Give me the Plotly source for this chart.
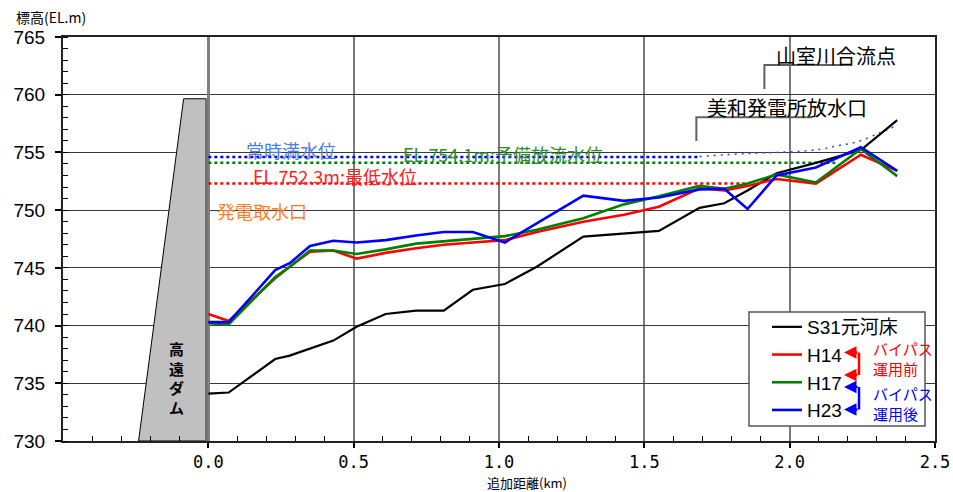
import plotly.graph_objects as go

# ---- river-bed profile data (distance in km, elevation in EL.m) ----
dist_km = [0.0, 0.07, 0.23, 0.28, 0.35, 0.43, 0.51, 0.61, 0.715, 0.81, 0.91, 1.02,
           1.13, 1.29, 1.43, 1.55, 1.69, 1.775, 1.855, 1.955, 2.09, 2.245, 2.37]
s31 = [734.1, 734.2, 737.1, 737.4, None, 738.7, 739.9, 741.0, 741.3, 741.3, 743.1, 743.6,
       745.1, 747.7, None, 748.2, 750.2, 750.6, 751.7, 753.2, 754.1, 755.2, 757.8]
h14 = [741.0, 740.4, 744.1, 745.1, 746.4, 746.5, 745.8, 746.3, 746.7, 747.0, 747.2, 747.4,
       748.1, 749.0, 749.6, 750.3, 751.9, 751.7, 752.1, 752.7, 752.3, 754.8, 753.4]
h17 = [740.2, 740.1, 744.2, 745.1, 746.5, 746.5, 746.2, 746.6, 747.1, 747.3, 747.55, 747.75,
       748.3, 749.3, 750.5, 751.2, 752.1, 751.85, 752.3, 753.1, 752.4, 755.3, 752.95]
h23 = [740.3, 740.3, 744.8, 745.4, 746.9, 747.35, 747.2, 747.4, 747.8, 748.1, 748.1, 747.2,
       None, 751.25, 750.8, 751.1, 751.8, 751.85, 750.1, 753.0, 753.7, 755.45, 753.4]

series_names = ["S31元河床", "H14", "H17", "H23"]
series_colors = ["#000000", "#ff0000", "#008000", "#0000ff"]

# ---- reservoir water levels ----
full_level = 754.6          # 常時満水位
full_level_x = [0.0, 1.69]
reserve_level = 754.1       # 予備放流水位
reserve_level_x = [0.0, 2.16]
min_level = 752.3           # 最低水位
min_level_x = [0.0, 1.855]
backwater_x = [1.69, 1.85, 2.0, 2.1, 2.17, 2.23, 2.31, 2.37]
backwater_y = [754.65, 754.9, 755.05, 755.25, 755.6, 755.9, 756.7, 757.35]

# ---- dam body outline ----
dam_x = [-0.24, -0.085, -0.007, -0.007, -0.24]
dam_y = [730.0, 759.65, 759.65, 730.0, 730.0]
dam_label = "高遠ダム"

x_ticks = [0.0, 0.5, 1.0, 1.5, 2.0, 2.5]
x_ticktext = ["0.0", "0.5", "1.0", "1.5", "2.0", "2.5"]
y_ticks = [730, 735, 740, 745, 750, 755, 760, 765]

JP = "Noto Sans CJK JP"
LAT = "Liberation Sans, Arial, Noto Sans CJK JP"

# plot-area geometry in pixels (used for paper-coordinate placement)
W, H = 953, 492
ML, MR, MT, MB = 63, 18, 37, 51
PW, PH = W - ML - MR, H - MT - MB


def px(xp):
    return (xp - ML) / PW


def py(yp):
    return (H - MB - yp) / PH


fig = go.Figure()

# water level lines
fig.add_trace(go.Scatter(x=full_level_x, y=[full_level] * 2, mode="lines",
                         line=dict(color="#0000ff", width=2.5, dash="dot"),
                         showlegend=False, hoverinfo="skip"))
fig.add_trace(go.Scatter(x=backwater_x, y=backwater_y, mode="lines", line_shape="spline",
                         line=dict(color="#3050ff", width=1.6, dash="2px,5px"),
                         showlegend=False, hoverinfo="skip"))
fig.add_trace(go.Scatter(x=reserve_level_x, y=[reserve_level] * 2, mode="lines",
                         line=dict(color="#008000", width=2.5, dash="dot"),
                         showlegend=False, hoverinfo="skip"))
fig.add_trace(go.Scatter(x=min_level_x, y=[min_level] * 2, mode="lines",
                         line=dict(color="#ff0000", width=2.5, dash="dot"),
                         showlegend=False, hoverinfo="skip"))

# dam body
fig.add_trace(go.Scatter(x=dam_x, y=dam_y, mode="lines", fill="toself",
                         fillcolor="#c0c0c0", line=dict(color="#000000", width=1),
                         showlegend=False, hoverinfo="skip"))
fig.add_trace(go.Scatter(x=[dam_x[2], dam_x[3]], y=[dam_y[2], dam_y[3]], mode="lines",
                         line=dict(color="#707070", width=2.5),
                         showlegend=False, hoverinfo="skip"))

# river-bed profiles
for name, ys, col, w in zip(series_names, [s31, h14, h17, h23], series_colors,
                            [2.2, 2.6, 2.6, 2.6]):
    fig.add_trace(go.Scatter(x=dist_km, y=ys, mode="lines", name=name,
                             connectgaps=True, line=dict(color=col, width=w)))

annotations = []


def txt(text, x, y, size, color, xanchor="center", xref="x", yref="y", **kw):
    annotations.append(dict(text=text, x=x, y=y, xref=xref, yref=yref,
                            xanchor=xanchor, yanchor="middle", showarrow=False,
                            font=dict(family=kw.pop("family", JP), size=size, color=color),
                            **kw))


txt("常時満水位", 0.2845, 755.23, 18, "#4a7ee6")
txt("EL.754.1m:予備放流水位", 0.664, 754.86, 18, "#2e8b2e", xanchor="left")
txt("EL.752.3m:最低水位", 0.148, 752.92, 18, "#ff2020", xanchor="left")
txt("発電取水口", 0.186, 749.9, 18, "#ff7f27")
txt("山室川合流点", 2.158, 763.44, 20, "#000000")
txt("美和発電所放水口", 1.991, 758.93, 20, "#000000")

# dam name, written vertically
txt("<b>" + "<br>".join(dam_label) + "</b>", -0.108, 735.5, 15, "#000000")

# axis titles
txt("標高(EL.m)", px(14), py(17), 14, "#000000", xanchor="left", xref="paper", yref="paper")
txt("追加距離(km)", px(485), py(482), 13, "#000000", xanchor="left", xref="paper", yref="paper")

# bypass notes beside the legend
txt("バイパス<br>運用前", px(871), py(358.5), 15, "#ff0000", xanchor="left",
    xref="paper", yref="paper", align="left")
txt("バイパス<br>運用後", px(871), py(403), 15, "#0000ff", xanchor="left",
    xref="paper", yref="paper", align="left")

for (y_top, y_bot, col) in [(352.5, 375.0, "#ff0000"), (387.0, 409.5, "#0000ff")]:
    for yy in (y_top, y_bot):
        annotations.append(dict(x=px(844), y=py(yy), xref="paper", yref="paper",
                                ax=15, ay=0, text="", showarrow=True, arrowhead=2,
                                arrowsize=1.0, arrowwidth=2.5, arrowcolor=col))

shapes = []
# leader lines for the upstream landmarks
shapes.append(dict(type="path", xref="x", yref="y",
                   path="M 1.913,760.5 L 1.913,762.57 L 2.213,762.57",
                   line=dict(color="#606060", width=2)))
shapes.append(dict(type="path", xref="x", yref="y",
                   path="M 1.679,756.0 L 1.679,758.04 L 2.078,758.04",
                   line=dict(color="#606060", width=2)))
# legend frame
shapes.append(dict(type="rect", xref="paper", yref="paper", layer="above",
                   x0=px(749), x1=px(925), y0=py(426), y1=py(312),
                   fillcolor="#ffffff", line=dict(color="#555555", width=1.5)))
# bypass brackets
for (y_top, y_bot, col) in [(352.5, 375.0, "#ff0000"), (387.0, 409.5, "#0000ff")]:
    shapes.append(dict(type="line", xref="paper", yref="paper", layer="above",
                       x0=px(859), x1=px(859), y0=py(y_top), y1=py(y_bot),
                       line=dict(color=col, width=2.5)))

minor_x = [round(-0.4 + 0.1 * i, 1) for i in range(29)]
minor_x = [v for v in minor_x if abs(v * 2 - round(v * 2)) > 1e-6]

fig.update_layout(
    width=W, height=H,
    margin=dict(l=ML, r=MR, t=MT, b=MB, pad=0, autoexpand=False),
    paper_bgcolor="#ffffff", plot_bgcolor="#ffffff",
    showlegend=True,
    legend=dict(x=px(767), y=py(308), xanchor="left", yanchor="top",
                bgcolor="rgba(0,0,0,0)", borderwidth=0,
                font=dict(family=LAT, size=19, color="#000000"),
                tracegroupgap=0),
    annotations=annotations,
    shapes=shapes,
    xaxis=dict(range=[-0.5, 2.5], tickmode="array", tickvals=x_ticks, ticktext=x_ticktext,
               automargin=False,
               ticks="outside", ticklen=5, tickwidth=1.5, tickcolor="#000000",
               tickfont=dict(family="DejaVu Sans Mono", size=17, color="#000000"),
               ticklabelstandoff=0,
               showgrid=True, gridcolor="#7a7a7a", gridwidth=1.5,
               zeroline=True, zerolinecolor="#808080", zerolinewidth=2.5,
               showline=True, linecolor="#222222", linewidth=2, mirror=True,
               minor=dict(tickmode="array", tickvals=minor_x, ticks="inside",
                          ticklen=5, tickwidth=1, tickcolor="#000000", showgrid=False)),
    yaxis=dict(range=[730, 765], tickmode="array", tickvals=y_ticks,
               automargin=False,
               ticks="outside", ticklen=6, tickwidth=1.5, tickcolor="#000000",
               tickfont=dict(family=LAT, size=19, color="#000000"),
               ticklabelstandoff=6,
               showgrid=True, gridcolor="#3a3a3a", gridwidth=1,
               zeroline=False,
               showline=True, linecolor="#222222", linewidth=2, mirror=True,
               minor=dict(dtick=1, tick0=730, ticks="inside", ticklen=5, tickwidth=1,
                          tickcolor="#000000", showgrid=False)),
)

fig.write_html("out.html")
